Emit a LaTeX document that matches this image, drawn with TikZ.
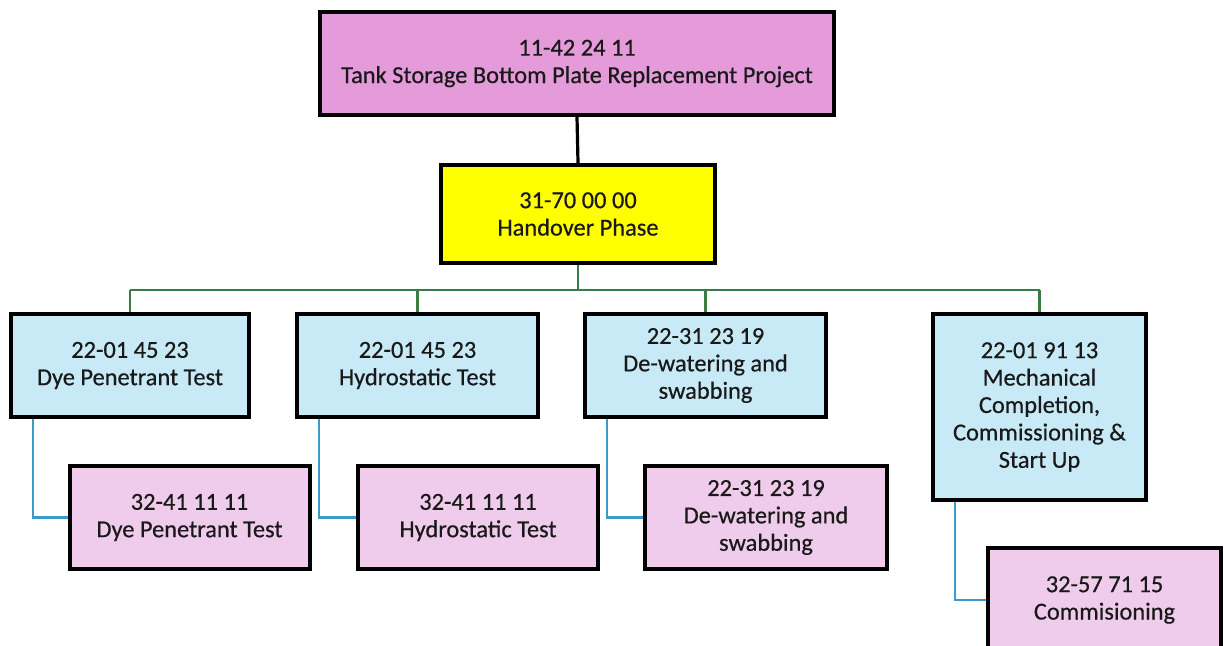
\documentclass[tikz,border=0pt]{standalone}
\usepackage{fontspec}
\setmainfont{Carlito}[FakeBold=0.5]
\definecolor{projpink}{RGB}{229,154,218}
\definecolor{phaseyellow}{RGB}{255,255,0}
\definecolor{wbsblue}{RGB}{200,234,247}
\definecolor{taskpink}{RGB}{240,204,236}
\definecolor{busgreen}{RGB}{58,125,68}
\definecolor{linkblue}{RGB}{58,155,203}
\definecolor{inktext}{RGB}{25,25,25}
\tikzset{
  wbsbox/.style={rectangle, draw=black, line width=2pt, inner sep=0pt,
    align=center, text=inktext,
    font=\fontsize{12.2}{13.7}\selectfont},
  blackline/.style={draw=black, line width=1.6pt},
  greenline/.style={draw=busgreen, line width=1.3pt},
  blueline/.style={draw=linkblue, line width=1.3pt},
}
\begin{document}
\begin{tikzpicture}[x=0.5pt, y=-0.5pt]
\useasboundingbox (0,0) rectangle (1224,645);
\clip (0,0) rectangle (1224,645);

% project and phase
\node[wbsbox, fill=projpink, minimum width=257pt, minimum height=51.5pt] (proj) at (577,63.5)
  {11-42 24 11\\Tank Storage Bottom Plate Replacement Project};
\node[wbsbox, fill=phaseyellow, minimum width=137pt, minimum height=49pt] (phase) at (578,214)
  {31-70 00 00\\Handover Phase};

% work packages
\node[wbsbox, fill=wbsblue, minimum width=119pt, minimum height=51.5pt] (b1) at (130,365.5)
  {22-01 45 23\\Dye Penetrant Test};
\node[wbsbox, fill=wbsblue, minimum width=120.5pt, minimum height=51.5pt] (b2) at (417.5,365.5)
  {22-01 45 23\\Hydrostatic Test};
\node[wbsbox, fill=wbsblue, minimum width=120.5pt, minimum height=51.5pt] (b3) at (705.5,365.5)
  {22-31 23 19\\De-watering and\\swabbing};
\node[wbsbox, fill=wbsblue, minimum width=106.5pt, minimum height=93pt] (b4) at (1039.5,407)
  {22-01 91 13\\Mechanical\\Completion,\\Commissioning \&\\Start Up};

% tasks
\node[wbsbox, fill=taskpink, minimum width=120pt, minimum height=51.5pt] (c1) at (189.5,517.5)
  {32-41 11 11\\Dye Penetrant Test};
\node[wbsbox, fill=taskpink, minimum width=120pt, minimum height=51.5pt] (c2) at (478,517.5)
  {32-41 11 11\\Hydrostatic Test};
\node[wbsbox, fill=taskpink, minimum width=121pt, minimum height=51.5pt] (c3) at (766,517.5)
  {22-31 23 19\\De-watering and\\swabbing};
\node[wbsbox, fill=taskpink, minimum width=116.5pt, minimum height=52pt] (c4) at (1104.5,600)
  {32-57 71 15\\Commisioning};

% connectors
\draw[blackline] (proj.south) -- (phase.north);
\coordinate (bus) at (578,290);
\draw[greenline] (phase.south) -- (phase.south |- bus);
\draw[greenline] (b1.north |- bus) -- (b4.north |- bus);
\foreach \n in {b1,b2,b3,b4}
  \draw[greenline] (\n.north) -- (\n.north |- bus);
\foreach \p/\c in {b1/c1,b2/c2,b3/c3,b4/c4}
  \draw[blueline] ([xshift=12pt]\p.south west) |- (\c.west);
\end{tikzpicture}
\end{document}
